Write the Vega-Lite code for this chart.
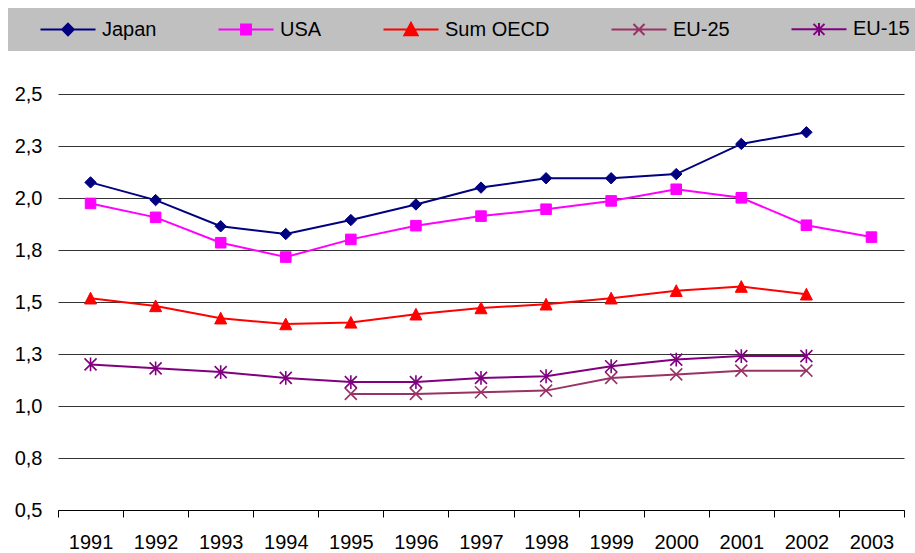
{
  "$schema": "https://vega.github.io/schema/vega-lite/v6.json",
  "width": 846,
  "height": 416,
  "autosize": {"type": "none"},
  "padding": {"left": 58, "top": 94, "right": 11, "bottom": 43},
  "background": "white",
  "config": {"view": {"stroke": null}, "font": "Liberation Sans"},
  "data": {"values": [
    {"year": "1991", "series": "Japan", "value": 2.075},
    {"year": "1992", "series": "Japan", "value": 1.99},
    {"year": "1993", "series": "Japan", "value": 1.864},
    {"year": "1994", "series": "Japan", "value": 1.827},
    {"year": "1995", "series": "Japan", "value": 1.894},
    {"year": "1996", "series": "Japan", "value": 1.969},
    {"year": "1997", "series": "Japan", "value": 2.05},
    {"year": "1998", "series": "Japan", "value": 2.095},
    {"year": "1999", "series": "Japan", "value": 2.095},
    {"year": "2000", "series": "Japan", "value": 2.115},
    {"year": "2001", "series": "Japan", "value": 2.26},
    {"year": "2002", "series": "Japan", "value": 2.316},
    {"year": "1991", "series": "USA", "value": 1.974},
    {"year": "1992", "series": "USA", "value": 1.907},
    {"year": "1993", "series": "USA", "value": 1.785},
    {"year": "1994", "series": "USA", "value": 1.716},
    {"year": "1995", "series": "USA", "value": 1.801},
    {"year": "1996", "series": "USA", "value": 1.867},
    {"year": "1997", "series": "USA", "value": 1.913},
    {"year": "1998", "series": "USA", "value": 1.946},
    {"year": "1999", "series": "USA", "value": 1.986},
    {"year": "2000", "series": "USA", "value": 2.042},
    {"year": "2001", "series": "USA", "value": 2.001},
    {"year": "2002", "series": "USA", "value": 1.869},
    {"year": "2003", "series": "USA", "value": 1.812},
    {"year": "1991", "series": "Sum OECD", "value": 1.518},
    {"year": "1992", "series": "Sum OECD", "value": 1.481},
    {"year": "1993", "series": "Sum OECD", "value": 1.422},
    {"year": "1994", "series": "Sum OECD", "value": 1.394},
    {"year": "1995", "series": "Sum OECD", "value": 1.402},
    {"year": "1996", "series": "Sum OECD", "value": 1.441},
    {"year": "1997", "series": "Sum OECD", "value": 1.471},
    {"year": "1998", "series": "Sum OECD", "value": 1.489},
    {"year": "1999", "series": "Sum OECD", "value": 1.518},
    {"year": "2000", "series": "Sum OECD", "value": 1.554},
    {"year": "2001", "series": "Sum OECD", "value": 1.574},
    {"year": "2002", "series": "Sum OECD", "value": 1.537},
    {"year": "1995", "series": "EU-25", "value": 1.058},
    {"year": "1996", "series": "EU-25", "value": 1.058},
    {"year": "1997", "series": "EU-25", "value": 1.066},
    {"year": "1998", "series": "EU-25", "value": 1.074},
    {"year": "1999", "series": "EU-25", "value": 1.135},
    {"year": "2000", "series": "EU-25", "value": 1.152},
    {"year": "2001", "series": "EU-25", "value": 1.17},
    {"year": "2002", "series": "EU-25", "value": 1.17},
    {"year": "1991", "series": "EU-15", "value": 1.2},
    {"year": "1992", "series": "EU-15", "value": 1.181},
    {"year": "1993", "series": "EU-15", "value": 1.163},
    {"year": "1994", "series": "EU-15", "value": 1.135},
    {"year": "1995", "series": "EU-15", "value": 1.115},
    {"year": "1996", "series": "EU-15", "value": 1.115},
    {"year": "1997", "series": "EU-15", "value": 1.135},
    {"year": "1998", "series": "EU-15", "value": 1.143},
    {"year": "1999", "series": "EU-15", "value": 1.191},
    {"year": "2000", "series": "EU-15", "value": 1.223},
    {"year": "2001", "series": "EU-15", "value": 1.24},
    {"year": "2002", "series": "EU-15", "value": 1.24}
  ]},
  "encoding": {
    "x": {
      "field": "year", "type": "ordinal", "bandPosition": 0.5,
      "scale": {"type": "band", "paddingInner": 0, "paddingOuter": 0,
        "domain": ["1991","1992","1993","1994","1995","1996","1997","1998","1999","2000","2001","2002","2003"]},
      "axis": {"title": null, "labelAngle": 0, "tickBand": "extent", "grid": false,
        "domainColor": "#000000", "domainWidth": 1, "tickColor": "#000000", "tickSize": 7, "tickWidth": 1,
        "labelFontSize": 20, "labelColor": "#000000", "labelPadding": 15, "labelFont": "Liberation Sans"}
    },
    "y": {
      "field": "value", "type": "quantitative",
      "scale": {"domain": [0.5, 2.5], "nice": false, "zero": false},
      "axis": {"title": null, "values": [0.5, 0.75, 1, 1.25, 1.5, 1.75, 2, 2.25, 2.5],
        "labelExpr": "replace(format(datum.value, '.1f'), '.', ',')",
        "domain": false, "ticks": false, "grid": true, "gridColor": "#333333", "gridWidth": 1, "gridOpacity": 1,
        "labelFontSize": 20, "labelColor": "#000000", "labelPadding": 16, "labelFont": "Liberation Sans"}
    },
    "color": {
      "field": "series", "type": "nominal",
      "scale": {"domain": ["Japan", "USA", "Sum OECD", "EU-25", "EU-15"],
        "range": ["#000080", "#FF00FF", "#FF0000", "#993366", "#800080"]},
      "legend": {
        "title": null, "orient": "none", "legendX": -50, "legendY": -86, "direction": "horizontal",
        "fillColor": "#C0C0C0", "strokeColor": null, "padding": 11,
        "labelFont": "Liberation Sans", "labelFontSize": 20, "labelColor": "#000000",
        "symbolSize": 121, "symbolStrokeWidth": 2, "symbolOffset": 39, "labelOffset": 24, "columnPadding": 40,
        "encode": {"symbols": {"update": {
          "shape": {"signal": "datum.value === 'Japan' ? 'M-5,0L5,0M0,-1.05L1.05,0L0,1.05L-1.05,0Z' : datum.value === 'USA' ? 'M-5,0L5,0M-0.9,-0.9L0.9,-0.9L0.9,0.9L-0.9,0.9Z' : datum.value === 'Sum OECD' ? 'M-5,0L5,0M0,-1.2L1.2,1.05L-1.2,1.05Z' : datum.value === 'EU-25' ? 'M-5,0L5,0M-1,-1L1,1M-1,1L1,-1' : 'M-5,0L5,0M-1,-1L1,1M-1,1L1,-1M0,-1.15L0,1.15'"},
          "fill": {"scale": "color", "field": "value"},
          "stroke": {"scale": "color", "field": "value"},
          "strokeWidth": {"value": 2},
          "opacity": {"value": 1}
        }}}
      }
    }
  },
  "layer": [
    {"mark": {"type": "line", "strokeWidth": 2}},
    {
      "transform": [{"filter": "datum.series === 'Japan'"}],
      "mark": {"type": "point", "filled": true, "opacity": 1, "size": 144, "strokeWidth": 1, "stroke": "#000080",
        "shape": "M0,-0.95L0.95,0L0,0.95L-0.95,0Z"}
    },
    {
      "transform": [{"filter": "datum.series === 'USA'"}],
      "mark": {"type": "point", "filled": true, "opacity": 1, "size": 144, "strokeWidth": 1, "stroke": "#FF00FF",
        "shape": "M-0.88,-0.88L0.88,-0.88L0.88,0.88L-0.88,0.88Z"}
    },
    {
      "transform": [{"filter": "datum.series === 'Sum OECD'"}],
      "mark": {"type": "point", "filled": true, "opacity": 1, "size": 144, "strokeWidth": 1, "stroke": "#FF0000",
        "shape": "M0,-1L1,0.95L-1,0.95Z"}
    },
    {
      "transform": [{"filter": "datum.series === 'EU-25'"}],
      "mark": {"type": "point", "filled": false, "opacity": 1, "size": 144, "strokeWidth": 1.6,
        "shape": "M-1,-1L1,1M-1,1L1,-1"}
    },
    {
      "transform": [{"filter": "datum.series === 'EU-15'"}],
      "mark": {"type": "point", "filled": false, "opacity": 1, "size": 144, "strokeWidth": 1.6,
        "shape": "M-1,-1L1,1M-1,1L1,-1M0,-1.15L0,1.15"}
    }
  ]
}
